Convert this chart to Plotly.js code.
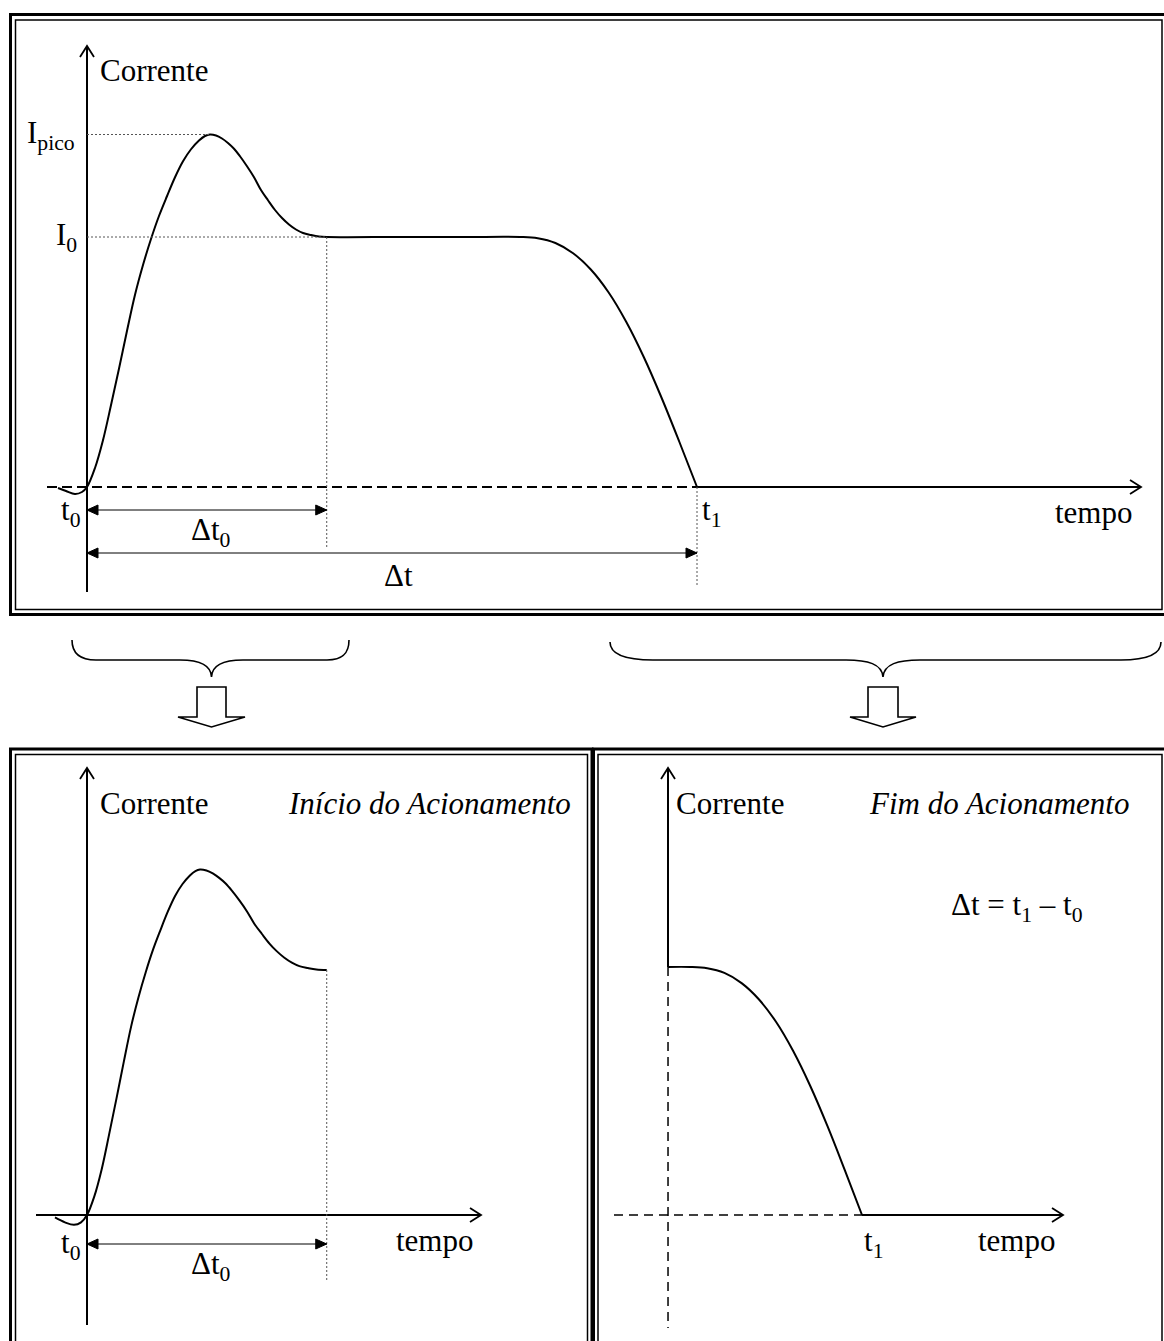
<!DOCTYPE html>
<html><head><meta charset="utf-8">
<script src="https://cdn.plot.ly/plotly-3.0.1.min.js"></script>
<style>html,body{margin:0;padding:0;background:#fff}#chart{width:1164px;height:1341px}</style>
</head><body><div id="chart"></div>
<script>
// ---------- data (time in arbitrary units, t0 = 0, t1 = 100; current in units of I0) ----------
const t0 = 0, t1 = 100, dt0End = 39.3, I0 = 1.0, Ipico = 1.41, tPico = 20.2;
const endWindowStart = 68.2;

// full current curve (top panel)
const topTime = [-4.75,-3.44,-1.97,-0.82,0,1.31,2.62,3.93,5.25,6.56,7.87,9.18,10.49,11.80,13.11,14.43,15.74,17.05,18.36,19.34,20.16,21.15,22.13,23.11,24.10,25.08,26.23,27.38,28.52,29.67,30.82,31.97,33.11,34.26,35.41,36.72,38.03,39.34,51.3,62.0,71.0,73.89,76.79,79.69,82.59,85.49,88.39,91.29,94.19,97.10,100];
const topCurrent = [-0.004,-0.016,-0.028,-0.02,0,0.076,0.187,0.327,0.474,0.625,0.769,0.888,0.992,1.084,1.163,1.239,1.303,1.351,1.386,1.404,1.41,1.406,1.394,1.376,1.353,1.323,1.283,1.239,1.188,1.147,1.108,1.076,1.05,1.03,1.016,1.008,1.002,1.0,1.0,1.0,1.0,0.995,0.976,0.935,0.870,0.779,0.661,0.519,0.357,0.181,0];

// start of actuation (bottom-left panel)
const startTime = [-5.25,-3.61,-2.13,-0.98,0,1.20,2.41,3.61,4.82,6.03,7.23,8.43,9.64,10.84,12.04,13.26,14.46,15.66,16.87,17.77,18.52,19.58,20.62,21.67,22.73,23.78,25.01,26.23,27.45,28.68,29.91,31.14,32.36,33.58,34.81,36.21,37.61,39.3];
const startCurrent = [-0.01,-0.03,-0.04,-0.03,0,0.076,0.187,0.327,0.474,0.625,0.769,0.888,0.992,1.084,1.163,1.239,1.303,1.351,1.386,1.404,1.41,1.406,1.394,1.376,1.353,1.323,1.283,1.239,1.188,1.147,1.108,1.076,1.05,1.03,1.016,1.008,1.002,1.0];

// end of actuation (bottom-right panel)
const endTime = [68.2,71.8,74.62,77.44,80.26,83.08,85.90,88.72,91.54,94.36,97.18,100];
const endCurrent = [1.0,1.0,0.995,0.976,0.935,0.870,0.779,0.661,0.519,0.357,0.181,0];

// texts
const txtCorrente = 'Corrente', txtTempo = 'tempo';
const txtIpico = 'I<sub>pico</sub>', txtI0 = 'I<sub>0</sub>';
const txtT0 = 't<sub>0</sub>', txtT1 = 't<sub>1</sub>';
const txtDt0 = 'Δt<sub>0</sub>', txtDt = 'Δt';
const txtInicio = 'Início do Acionamento', txtFim = 'Fim do Acionamento';
const txtFormula = 'Δt = t<sub>1</sub> – t<sub>0</sub>';

// ---------- layout geometry ----------
const W = 1164, H = 1341;
const FONT = 'Liberation Serif, "Times New Roman", serif';
const FS = 31;
function mapper(px0, sx, py0, sy) {
  return {
    xr: [(0 - px0) / sx, (W - px0) / sx],
    yr: [(py0 - H) / sy, py0 / sy],
    t: px => (px - px0) / sx,
    i: py => (py0 - py) / sy,
    X: t => px0 + t * sx,
    Y: v => py0 - v * sy
  };
}
const mTop = mapper(87, 6.1, 487, 250);
const mStart = mapper(87, 6.1, 1215, 245);
const mEnd = mapper(862 - 100 * 6.1, 6.1, 1215, 248);

const curveLine = {color: '#000', width: 2, shape: 'spline', smoothing: 1};
const traces = [
  {x: topTime, y: topCurrent, xaxis: 'x', yaxis: 'y', mode: 'lines', line: curveLine, hoverinfo: 'skip'},
  {x: startTime, y: startCurrent, xaxis: 'x2', yaxis: 'y2', mode: 'lines', line: curveLine, hoverinfo: 'skip'},
  {x: endTime, y: endCurrent, xaxis: 'x3', yaxis: 'y3', mode: 'lines', line: curveLine, hoverinfo: 'skip'}
];

const shapes = [];
const ann = [];
function seg(xr, yr, x0, y0, x1, y1, dash, width, color) {
  shapes.push({type: 'line', xref: xr, yref: yr, x0, y0, x1, y1,
    line: {color: color || '#000', width: width || 1, dash: dash || 'solid'}});
}
function pathPx(d, fill, w) {
  shapes.push({type: 'path', xref: 'x4', yref: 'y4', path: d,
    line: {color: '#000', width: w || 1.6}, fillcolor: fill || 'rgba(0,0,0,0)'});
}
// open chevron arrow tip at pixel (px,py)
function chevron(px, py, dir) {
  if (dir === 'up') pathPx(`M ${px - 7} ${py + 11} L ${px} ${py} L ${px + 7} ${py + 11}`, null, 1.8);
  else pathPx(`M ${px - 11} ${py - 7} L ${px} ${py} L ${px - 11} ${py + 7}`, null, 1.8);
}
// filled triangular head at pixel (px,py)
function tri(px, py, dir) {
  const s = dir === 'left' ? 1 : -1;
  pathPx(`M ${px} ${py} L ${px + s * 11} ${py - 5} L ${px + s * 11} ${py + 5} Z`, '#000', 1);
}
function dimArrow(xr, yr, m, ta, tb, v) {
  seg(xr, yr, ta, v, tb, v, 'solid', 1);
  tri(m.X(ta), m.Y(v), 'left');
  tri(m.X(tb), m.Y(v), 'right');
}
function label(xr, yr, x, y, text, xanchor, italic, xshift) {
  ann.push({xref: xr, yref: yr, x, y, text: italic ? '<i>' + text + '</i>' : text,
    showarrow: false, xanchor: xanchor || 'center', yanchor: 'middle', xshift: xshift || 0,
    font: {family: FONT, size: FS, color: '#000'}});
}
const DOT = '2px,2px', DOTC = '#555';

// ---- top panel ----
seg('x', 'y', t0, mTop.i(592), t0, mTop.i(46), 'solid', 2);
chevron(mTop.X(t0), 46, 'up');
seg('x', 'y', mTop.t(47), 0, t1, 0, '10px,5px', 2);
seg('x', 'y', t1, 0, mTop.t(1141), 0, 'solid', 2);
chevron(1141, mTop.Y(0), 'right');
seg('x', 'y', t0, Ipico, tPico, Ipico, DOT, 1, DOTC);
seg('x', 'y', t0, I0, dt0End, I0, DOT, 1, DOTC);
seg('x', 'y', dt0End, I0, dt0End, mTop.i(548), DOT, 1, DOTC);
seg('x', 'y', t1, 0, t1, mTop.i(587), DOT, 1, DOTC);
dimArrow('x', 'y', mTop, t0, dt0End, mTop.i(510));
dimArrow('x', 'y', mTop, t0, t1, mTop.i(553));
label('x', 'y', mTop.t(98), mTop.i(70), txtCorrente, 'left');
label('x', 'y', mTop.t(77), Ipico, txtIpico, 'right');
label('x', 'y', mTop.t(79), I0, txtI0, 'right');
label('x', 'y', mTop.t(83), mTop.i(512), txtT0, 'right');
label('x', 'y', (t0 + dt0End) / 2, mTop.i(532), txtDt0, 'center', false, 4);
label('x', 'y', (t0 + t1) / 2, mTop.i(575), txtDt, 'center', false, 6);
label('x', 'y', t1, mTop.i(512), txtT1, 'left', false, 3);
label('x', 'y', mTop.t(1135), mTop.i(512), txtTempo, 'right');

// ---- bottom-left panel ----
seg('x2', 'y2', t0, mStart.i(1325), t0, mStart.i(768), 'solid', 2);
chevron(mStart.X(t0), 768, 'up');
seg('x2', 'y2', mStart.t(36), 0, mStart.t(481), 0, 'solid', 2);
chevron(481, mStart.Y(0), 'right');
seg('x2', 'y2', dt0End, I0, dt0End, mStart.i(1281), DOT, 1, DOTC);
dimArrow('x2', 'y2', mStart, t0, dt0End, mStart.i(1244));
label('x2', 'y2', mStart.t(98), mStart.i(803), txtCorrente, 'left');
label('x2', 'y2', mStart.t(573), mStart.i(803), txtInicio, 'right', true);
label('x2', 'y2', mStart.t(83), mStart.i(1245), txtT0, 'right');
label('x2', 'y2', (t0 + dt0End) / 2, mStart.i(1266), txtDt0, 'center', false, 4);
label('x2', 'y2', mStart.t(476), mStart.i(1240), txtTempo, 'right');

// ---- bottom-right panel ----
seg('x3', 'y3', endWindowStart, I0, endWindowStart, mEnd.i(768), 'solid', 2);
chevron(mEnd.X(endWindowStart), 768, 'up');
seg('x3', 'y3', endWindowStart, I0, endWindowStart, mEnd.i(1328), '9px,6px', 1.5);
seg('x3', 'y3', mEnd.t(614), 0, t1, 0, '9px,6px', 1.5);
seg('x3', 'y3', t1, 0, mEnd.t(1063), 0, 'solid', 2);
chevron(1063, mEnd.Y(0), 'right');
label('x3', 'y3', mEnd.t(674), mEnd.i(803), txtCorrente, 'left');
label('x3', 'y3', mEnd.t(1131), mEnd.i(803), txtFim, 'right', true);
label('x3', 'y3', mEnd.t(949), mEnd.i(907), txtFormula, 'left');
label('x3', 'y3', t1, mEnd.i(1243), txtT1, 'left', false, 0);
label('x3', 'y3', mEnd.t(1058), mEnd.i(1240), txtTempo, 'right');

// ---- frames, braces and block arrows (page decoration, pixel axes x4/y4) ----
function rect(x0, y0, x1, y1, w) {
  shapes.push({type: 'rect', xref: 'x4', yref: 'y4', x0, y0, x1, y1, line: {color: '#000', width: w}, fillcolor: 'rgba(0,0,0,0)'});
}
rect(10.5, 14.5, 1175, 614.5, 3);
rect(15.5, 20, 1162, 609.5, 1.5);
rect(10.5, 749, 592, 1400, 3);
rect(15.5, 754.5, 587.5, 1400, 1.5);
rect(593.5, 749, 1175, 1400, 3);
rect(598, 754.5, 1162, 1400, 1.5);
pathPx('M 72 640 C 72 653 80 660 96 660 L 180 660 C 198 660 211 664 211.5 677 C 212 664 225 660 243 660 L 327 660 C 343 660 349 653 349 640');
pathPx('M 610 642 C 610 654 625 660 653 660 L 846 660 C 868 660 882 664 883 677 C 884 664 898 660 920 660 L 1121 660 C 1148 660 1161 654 1161 642');
pathPx('M 197 687 L 226 687 L 226 717 L 245 717 L 211.5 727 L 178 717 L 197 717 Z', '#fff');
pathPx('M 868 687 L 898 687 L 898 717 L 916 717 L 883 727 L 850 717 L 868 717 Z', '#fff');

const ax = (r, extra) => Object.assign({domain: [0, 1], range: r, visible: false, showgrid: false, zeroline: false, fixedrange: true}, extra || {});
const layout = {
  width: W, height: H, autosize: false,
  margin: {l: 0, r: 0, t: 0, b: 0, pad: 0},
  paper_bgcolor: '#fff', plot_bgcolor: 'rgba(0,0,0,0)',
  showlegend: false,
  xaxis: ax(mTop.xr, {anchor: 'y'}), yaxis: ax(mTop.yr, {anchor: 'x'}),
  xaxis2: ax(mStart.xr, {anchor: 'y2'}), yaxis2: ax(mStart.yr, {anchor: 'x2'}),
  xaxis3: ax(mEnd.xr, {anchor: 'y3'}), yaxis3: ax(mEnd.yr, {anchor: 'x3'}),
  xaxis4: ax([0, W], {anchor: 'y4'}), yaxis4: ax([H, 0], {anchor: 'x4'}),
  shapes: shapes, annotations: ann
};
Plotly.newPlot('chart', traces, layout, {staticPlot: true, displayModeBar: false});
</script></body></html>
